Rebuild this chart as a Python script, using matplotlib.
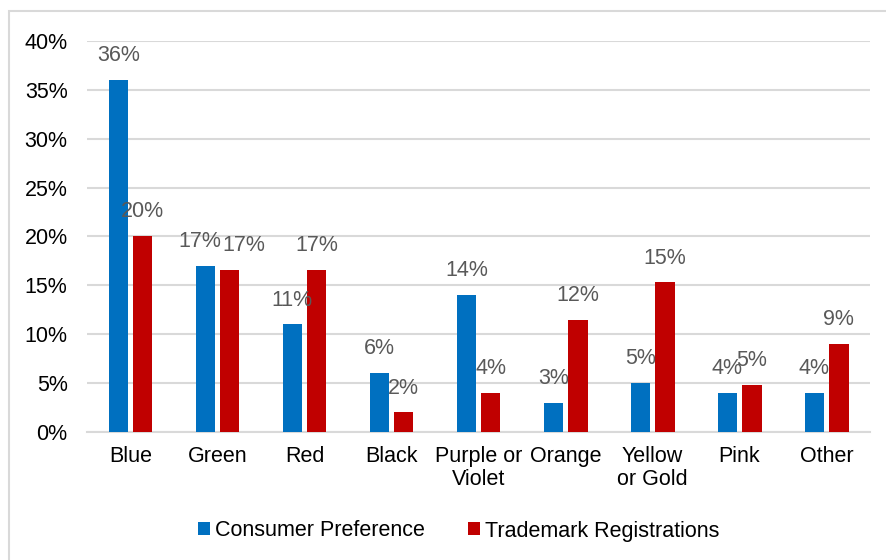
import matplotlib.pyplot as plt
import numpy as np
from matplotlib.patches import Rectangle

categories = ["Blue", "Green", "Red", "Black", "Purple or\nViolet", "Orange",
              "Yellow\nor Gold", "Pink", "Other"]
consumer = [36, 17, 11, 6, 14, 3, 5, 4, 4]
trademark = [20.1, 16.6, 16.6, 2, 4, 11.5, 15.3, 4.8, 9]
series_names = ["Consumer Preference", "Trademark Registrations"]
yticks = [0, 5, 10, 15, 20, 25, 30, 35, 40]

plt.rcParams['font.family'] = ['Liberation Sans', 'DejaVu Sans']
FS = 15.5

fig = plt.figure(figsize=(8.86, 5.6), dpi=100)
ax = fig.add_axes([0.0982, 0.2286, 0.8838, 0.6982])

# chart frame (light grey border around the chart area)
fig.patches.append(Rectangle((9 / 886, -0.1), 1.2, 1 - 11 / 560 + 0.1,
                             transform=fig.transFigure, fill=False,
                             edgecolor='#D9D9D9', linewidth=1.5))

x = np.arange(len(categories))
w = 0.225
off = 0.14
b1 = ax.bar(x - off, consumer, w, color='#0070C0', label=series_names[0], zorder=3)
b2 = ax.bar(x + off, trademark, w, color='#C00000', label=series_names[1], zorder=3)

# small manual nudges for the overlapping Green labels (points)
nudge1 = {1: -4}
nudge2 = {1: 10}
for i, (r, v) in enumerate(zip(b1, consumer)):
    ax.annotate(f"{round(v)}%", (r.get_x() + r.get_width() / 2, v),
                xytext=(nudge1.get(i, 0), 10), textcoords='offset points',
                ha='center', va='bottom', fontsize=FS, color='#595959')
for i, (r, v) in enumerate(zip(b2, trademark)):
    ax.annotate(f"{round(v)}%", (r.get_x() + r.get_width() / 2, v),
                xytext=(nudge2.get(i, 0), 10), textcoords='offset points',
                ha='center', va='bottom', fontsize=FS, color='#595959')

ax.set_xlim(-0.5, len(categories) - 0.5)
ax.set_ylim(0, 40)
ax.set_yticks(yticks)
ax.set_yticklabels([f"{t}%" for t in yticks])
ax.set_xticks(x)
ax.set_xticklabels(categories, linespacing=1.15)
ax.tick_params(axis='both', length=0, labelsize=FS, colors='black')
ax.tick_params(axis='y', pad=14)
ax.tick_params(axis='x', pad=10)
ax.grid(axis='y', color='#D9D9D9', linewidth=1.5, zorder=0)
for s in ['top', 'right', 'left']:
    ax.spines[s].set_visible(False)
ax.spines['bottom'].set_color('#D9D9D9')
ax.spines['bottom'].set_linewidth(1.5)

fig.legend(handles=[b1, b2], labels=series_names, loc='center',
           bbox_to_anchor=(0.518, 1 - 531 / 560), ncol=2, frameon=False,
           fontsize=FS, handlelength=0.55, handleheight=0.55, handletextpad=0.25,
           columnspacing=2.0)

fig.savefig("out.png", dpi=100)
